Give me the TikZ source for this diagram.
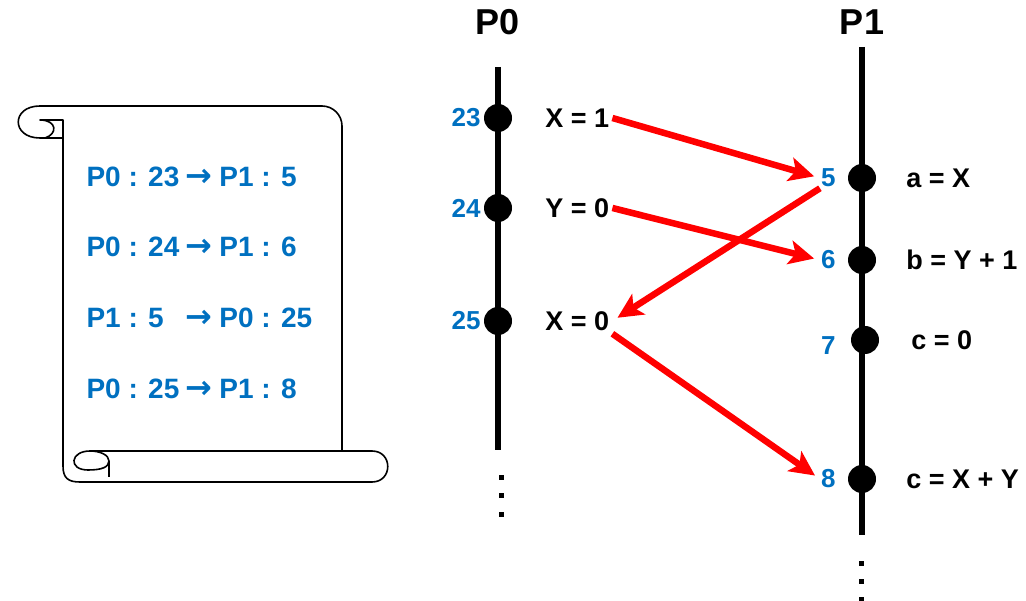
\documentclass[tikz,border=0pt]{standalone}
\usepackage{fontspec}
\setmainfont{Liberation Sans}
\newfontfamily\arrowfont{DejaVu Sans}
\usetikzlibrary{arrows.meta,positioning}
\definecolor{stampblue}{RGB}{0,112,192}

\begin{document}
\begin{tikzpicture}[x=1pt,y=-1pt,
      event/.style={
         circle,
         fill=black,
         inner sep=0pt,
         minimum size=28pt},
      stamp/.style={text=stampblue, inner sep=1pt,
         font=\fontsize{26}{26}\selectfont\bfseries},
      stmt/.style={inner sep=3pt,
         font=\fontsize{27}{27}\selectfont\bfseries},
      proc/.style={font=\fontsize{36}{36}\selectfont\bfseries},
      logline/.style={anchor=west, text=stampblue,
         font=\fontsize{28}{28}\selectfont\bfseries},
      timeline/.style={line width=6pt},
      sheet/.style={line width=1.6pt, line join=round},
      msg/.style={draw=red, line width=6.5pt, shorten >=6pt,
         -{Stealth[length=25pt,width=24pt,inset=6pt]}},
      node distance=28pt and 28pt
      ]
      \useasboundingbox (0,0) rectangle (1026,601);

      % the scroll with the log
      \draw[sheet, rounded corners=20pt] (40,106) -- (342,106) -- (342,451);
      \draw[sheet] (40,106) .. controls (11,106) and (11,138) .. (40,138) -- (63,138);
      \draw[sheet] (63,138) -- (63,120) -- (40,120) .. controls (57,120) and (58,134) .. (45,138);
      \draw[sheet] (63,138) -- (63,466) .. controls (63,478) and (68,482) .. (80,482)
         -- (372,482) .. controls (393,482) and (393,451) .. (372,451) -- (90,451);
      \draw[sheet] (90,451) .. controls (70,451) and (68,470) .. (88,470)
         .. controls (102,470) and (109,467) .. (109,461)
         .. controls (109,455) and (100,451) .. (90,451);
      \draw[sheet] (109,461) -- (109,477);

      \foreach \y/\a/\b [count=\k] in {% row/sender/receiver
        177/P0 : 23/P1 : 5,
        247/P0 : 24/P1 : 6,
        318/P1 : 5/P0 : 25,
        389/P0 : 25/P1 : 8}
        \node[logline] (log\k) at (83,\y)
           {\makebox[94pt][l]{\a}\hspace{5pt}{\arrowfont\fontsize{32}{32}\selectfont→}\hspace{7pt}\b};

      % process P0
      \node[proc] (p0) at (498,22) {P0};
      \coordinate (p0top) at (498,67);
      \coordinate (p0bot) at (498,450);
      \draw[timeline] (p0top) -- (p0bot);
      \node[event] (e23) at (498,118) {};
      \node[event] (e24) at (498,208) {};
      \node[event] (e25) at (498,321) {};
      \node[stamp,left=2pt of e23] (n23) {23};
      \node[stamp,left=2pt of e24] (n24) {24};
      \node[stamp,left=2pt of e25] (n25) {25};
      \node[stmt,right=30pt of e23] (x1) {X = 1};
      \node[stmt,right=30pt of e24] (y0) {Y = 0};
      \node[stmt,right=30pt of e25] (x0) {X = 0};

      % process P1
      \node[proc] (p1) at (862,22) {P1};
      \coordinate (p1top) at (862,47);
      \coordinate (p1bot) at (862,535);
      \draw[timeline] (p1top) -- (p1bot);
      \node[event] (e5) at (862,178) {};
      \node[event] (e6) at (862,260) {};
      \node[event] (e7) at (865,340) {};
      \node[event] (e8) at (862,479) {};
      \node[stamp,left=11pt of e5] (n5) {5};
      \node[stamp,left=11pt of e6] (n6) {6};
      \node[stamp,left=14pt of e7,yshift=-6pt] (n7) {7};
      \node[stamp,left=11pt of e8] (n8) {8};
      \node[stmt,right=27pt of e5] (a) {a = X};
      \node[stmt,right=27pt of e6] (b) {b = Y + 1};
      \node[stmt,right=29pt of e7] (c0) {c = 0};
      \node[stmt,right=27pt of e8] (c1) {c = X + Y};

      % more events follow
      \foreach \x/\y in {501/478, 501/496, 501/514, 861/563, 861/581, 861/599}
        \fill (\x-2.5,\y-2.5) rectangle (\x+2.5,\y+2.5);

      \foreach \i/\j in {% from/to
        x1.east/n5.west,
        y0.east/n6.west,
        n5.south west/x0.east,
        x0.south east/n8.west}
        \draw[msg] (\i) -- (\j);

\end{tikzpicture}
\end{document}
